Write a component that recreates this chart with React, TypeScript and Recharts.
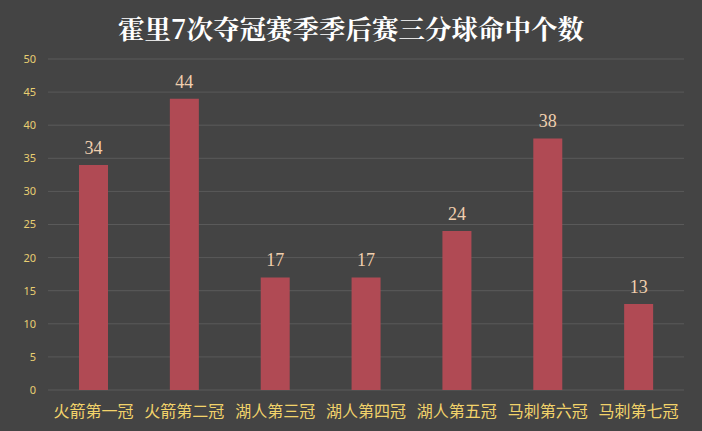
import React from "react";
import { BarChart, Bar, XAxis, YAxis, CartesianGrid, LabelList } from "recharts";

const categories = ["火箭第一冠", "火箭第二冠", "湖人第三冠", "湖人第四冠", "湖人第五冠", "马刺第六冠", "马刺第七冠"];
const threes = [34, 44, 17, 17, 24, 38, 13];
const yTicks = [0, 5, 10, 15, 20, 25, 30, 35, 40, 45, 50];
const title = "霍里7次夺冠赛季季后赛三分球命中个数";

const data = categories.map((name, i) => ({ name, value: threes[i] }));

const XTick = (props: any) => {
  const { x, y, payload } = props;
  return (
    <text x={x} y={y + 19} textAnchor="middle" fill="#f2d36a" fontSize={16} fontFamily="'Noto Sans CJK SC', sans-serif">
      {payload.value}
    </text>
  );
};

const TopLabel = (props: any) => {
  const { x, y, width, value } = props;
  return (
    <text
      x={x + width / 2}
      y={y - 11}
      textAnchor="middle"
      fill="#f0cfae"
      fontSize={18}
      style={{ fontFamily: "'Liberation Serif', 'DejaVu Serif', serif" }}
    >
      {value}
    </text>
  );
};

export default function App() {
  return (
    <div style={{ position: "fixed", left: 0, top: 0, width: 702, height: 431, background: "#444444" }}>
      <div
        style={{
          position: "absolute",
          left: 0,
          top: 8,
          width: 702,
          textAlign: "center",
          color: "#ffffff",
          fontSize: 26.5,
          fontWeight: "bold",
          fontFamily: "'Noto Serif CJK SC', 'Noto Sans CJK SC', serif",
          lineHeight: "40px",
        }}
      >
        {title}
      </div>
      <BarChart width={702} height={431} data={data} margin={{ top: 59, right: 18, bottom: 0, left: 0 }}>
        <CartesianGrid vertical={false} stroke="#5a5a5a" />
        <XAxis dataKey="name" axisLine={false} tickLine={false} tick={<XTick />} height={41} interval={0} />
        <YAxis
          domain={[0, 50]}
          ticks={yTicks}
          axisLine={false}
          tickLine={false}
          width={48}
          tick={{ fill: "#e9cf72", fontSize: 11, fontFamily: "'Noto Sans', sans-serif" }}
          tickMargin={6}
        />
        <Bar dataKey="value" fill="#b04a54" barSize={29} isAnimationActive={false}>
          <LabelList dataKey="value" content={<TopLabel />} />
        </Bar>
      </BarChart>
    </div>
  );
}
